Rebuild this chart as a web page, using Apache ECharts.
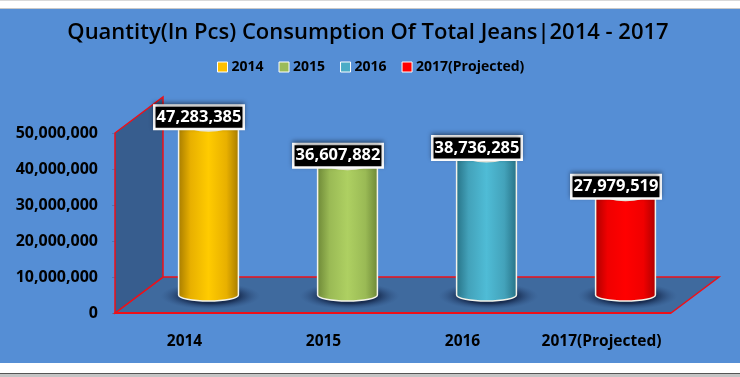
<!DOCTYPE html>
<html>
<head>
<meta charset="utf-8">
<style>
  html, body { margin: 0; padding: 0; background: #fff; }
  #chart { width: 740px; height: 377px; }
</style>
<script src="https://cdn.jsdelivr.net/npm/echarts@6/dist/echarts.min.js"></script>
</head>
<body>
<div id="chart"></div>
<script>
const categories = ["2014", "2015", "2016", "2017(Projected)"];
const quantities = [47283385, 36607882, 38736285, 27979519];
const colors = [
  ["#a97e00", "#e8b000", "#ffcb00"],
  ["#6f8a38", "#9aba55", "#aed062"],
  ["#287488", "#43a2ba", "#4fbcd6"],
  ["#b00000", "#f00000", "#ff0000"],
];
const legendColors = ["#ffc000", "#9bbb59", "#4bacc6", "#ff0000"];

const FONT = "Open Sans";
const depthX = 48;
const depthY = 36;
const barRatio = 0.43;
const RED = "#ee1018";

function gradient(stops) {
  return new echarts.graphic.LinearGradient(0, 0, 1, 0, [
    { offset: 0, color: stops[0] },
    { offset: 0.2, color: stops[1] },
    { offset: 0.5, color: stops[2] },
    { offset: 0.8, color: stops[1] },
    { offset: 1, color: stops[0] },
  ]);
}

function renderBox(params, api) {
  const rect = params.coordSys;
  const left = rect.x;
  const right = rect.x + rect.width;
  const y0 = api.coord([0, 0])[1];
  const yTop = api.coord([0, 50000000])[1];
  return {
    type: "group",
    children: [
      {
        type: "polygon",
        shape: { points: [[left, y0], [right, y0], [right + depthX, y0 - depthY], [left + depthX, y0 - depthY]] },
        style: { fill: "#3f6a9e", stroke: RED, lineWidth: 1.5 },
      },
      {
        type: "polygon",
        shape: { points: [[left, yTop], [left + depthX, yTop - depthY], [left + depthX, y0 - depthY], [left, y0]] },
        style: { fill: "#375d8e", stroke: RED, lineWidth: 1.5 },
      },
      {
        type: "line",
        shape: { x1: left, y1: y0, x2: right, y2: y0 },
        style: { stroke: RED, lineWidth: 2 },
      },
    ],
  };
}

function renderCylinder(params, api) {
  const idx = api.value(0);
  const value = api.value(1);
  const base = api.coord([idx, 0]);
  const top = api.coord([idx, value]);
  const width = api.size([1, 0])[0] * barRatio;
  const rx = width / 2;
  const ry = 6;
  const fill = gradient(colors[idx]);
  const edge = { stroke: "#f4f4ea", lineWidth: 1.5 };
  return {
    type: "group",
    children: [
      {
        type: "circle",
        x: base[0] + 2,
        y: base[1] + 1,
        scaleY: 0.27,
        shape: { cx: 0, cy: 0, r: rx + 20 },
        style: {
          fill: new echarts.graphic.RadialGradient(0.5, 0.5, 0.5, [
            { offset: 0.55, color: "rgba(22,42,78,0.95)" },
            { offset: 1, color: "rgba(50,85,135,0)" },
          ]),
        },
      },
      {
        type: "ellipse",
        shape: { cx: base[0], cy: base[1], rx: rx, ry: ry },
        style: Object.assign({ fill: fill }, edge),
      },
      {
        type: "rect",
        shape: { x: base[0] - rx, y: top[1], width: width, height: base[1] - top[1] },
        style: { fill: fill },
      },
      { type: "line", shape: { x1: base[0] - rx, y1: top[1], x2: base[0] - rx, y2: base[1] }, style: edge },
      { type: "line", shape: { x1: base[0] + rx, y1: top[1], x2: base[0] + rx, y2: base[1] }, style: edge },
      {
        type: "ellipse",
        shape: { cx: top[0], cy: top[1], rx: rx - 8, ry: ry + 1 },
        style: { fill: "#efeee2" },
      },
      {
        type: "text",
        style: {
          text: value.toLocaleString("en-US"),
          x: top[0] - 9.5,
          y: top[1] + 3,
          align: "center",
          verticalAlign: "bottom",
          fill: "#fff",
          font: "bold 16.5px '" + FONT + "'",
          backgroundColor: "#000",
          borderColor: "#fff",
          borderWidth: 2.5,
          padding: [2, 1, 2, 1],
          shadowColor: "rgba(0,0,0,0.35)",
          shadowBlur: 4,
          shadowOffsetY: -2,
        },
      },
    ],
  };
}

const chart = echarts.init(document.getElementById("chart"), null, { renderer: "canvas" });

const cylinders = categories.map(function (name, i) {
  return {
    name: name,
    type: "custom",
    xAxisIndex: 1,
    yAxisIndex: 1,
    clip: false,
    z: 5 + i,
    itemStyle: { color: legendColors[i] },
    encode: { x: 0, y: 1 },
    data: [[i, quantities[i]]],
    renderItem: renderCylinder,
  };
});

chart.setOption({
  backgroundColor: "#fff",
  animation: false,
  title: {
    text: "Quantity(In Pcs) Consumption Of Total Jeans|2014 - 2017",
    left: 363,
    top: 17,
    textAlign: "center",
    textStyle: { color: "#000", fontFamily: FONT, fontWeight: 600, fontSize: 22 },
  },
  legend: {
    left: 212,
    top: 55,
    itemWidth: 10,
    itemHeight: 10,
    itemGap: 15,
    icon: "rect",
    itemStyle: { borderColor: "#fff", borderWidth: 1 },
    textStyle: { color: "#000", fontFamily: FONT, fontWeight: "bold", fontSize: 14, padding: [0, 0, 0, -1] },
    data: categories,
  },
  graphic: [
    { type: "rect", z: -10, shape: { x: 0, y: 0, width: 740, height: 1 }, style: { fill: "#d9d9d9" } },
    { type: "rect", z: -10, shape: { x: 0, y: 8, width: 740, height: 1 }, style: { fill: "#c8c8c8" } },
    { type: "rect", z: -10, shape: { x: 0, y: 9, width: 740, height: 354 }, style: { fill: "#558ed5" } },
    { type: "rect", z: -10, shape: { x: 0, y: 373, width: 740, height: 1 }, style: { fill: "#555" } },
    { type: "rect", z: -10, shape: { x: 0, y: 374, width: 740, height: 3 }, style: { fill: "#c4c4c4" } },
  ],
  grid: [
    { left: 115, top: 133, width: 556, height: 180 },
    { left: 139, top: 115, width: 556, height: 180 },
  ],
  xAxis: [
    {
      type: "category",
      gridIndex: 0,
      data: categories,
      axisLine: { show: false },
      axisTick: { show: false },
      axisLabel: { color: "#000", fontFamily: FONT, fontWeight: "bold", fontSize: 15.5, margin: 21, interval: 0 },
    },
    { type: "category", gridIndex: 1, data: categories, show: false },
  ],
  yAxis: [
    {
      type: "value",
      gridIndex: 0,
      min: 0,
      max: 50000000,
      interval: 10000000,
      axisLine: { show: false },
      axisTick: { show: true, length: 3, lineStyle: { color: "#4a78b5" } },
      splitLine: { show: false },
      axisLabel: {
        color: "#000",
        fontFamily: FONT,
        fontWeight: "bold",
        fontSize: 16,
        margin: 17,
        formatter: function (v) { return v.toLocaleString("en-US"); },
      },
    },
    { type: "value", gridIndex: 1, min: 0, max: 50000000, interval: 10000000, show: false },
  ],
  series: [
    {
      type: "custom",
      xAxisIndex: 0,
      yAxisIndex: 0,
      clip: false,
      silent: true,
      z: 1,
      data: [[0, 0]],
      renderItem: renderBox,
    },
  ].concat(cylinders),
});
</script>
</body>
</html>
